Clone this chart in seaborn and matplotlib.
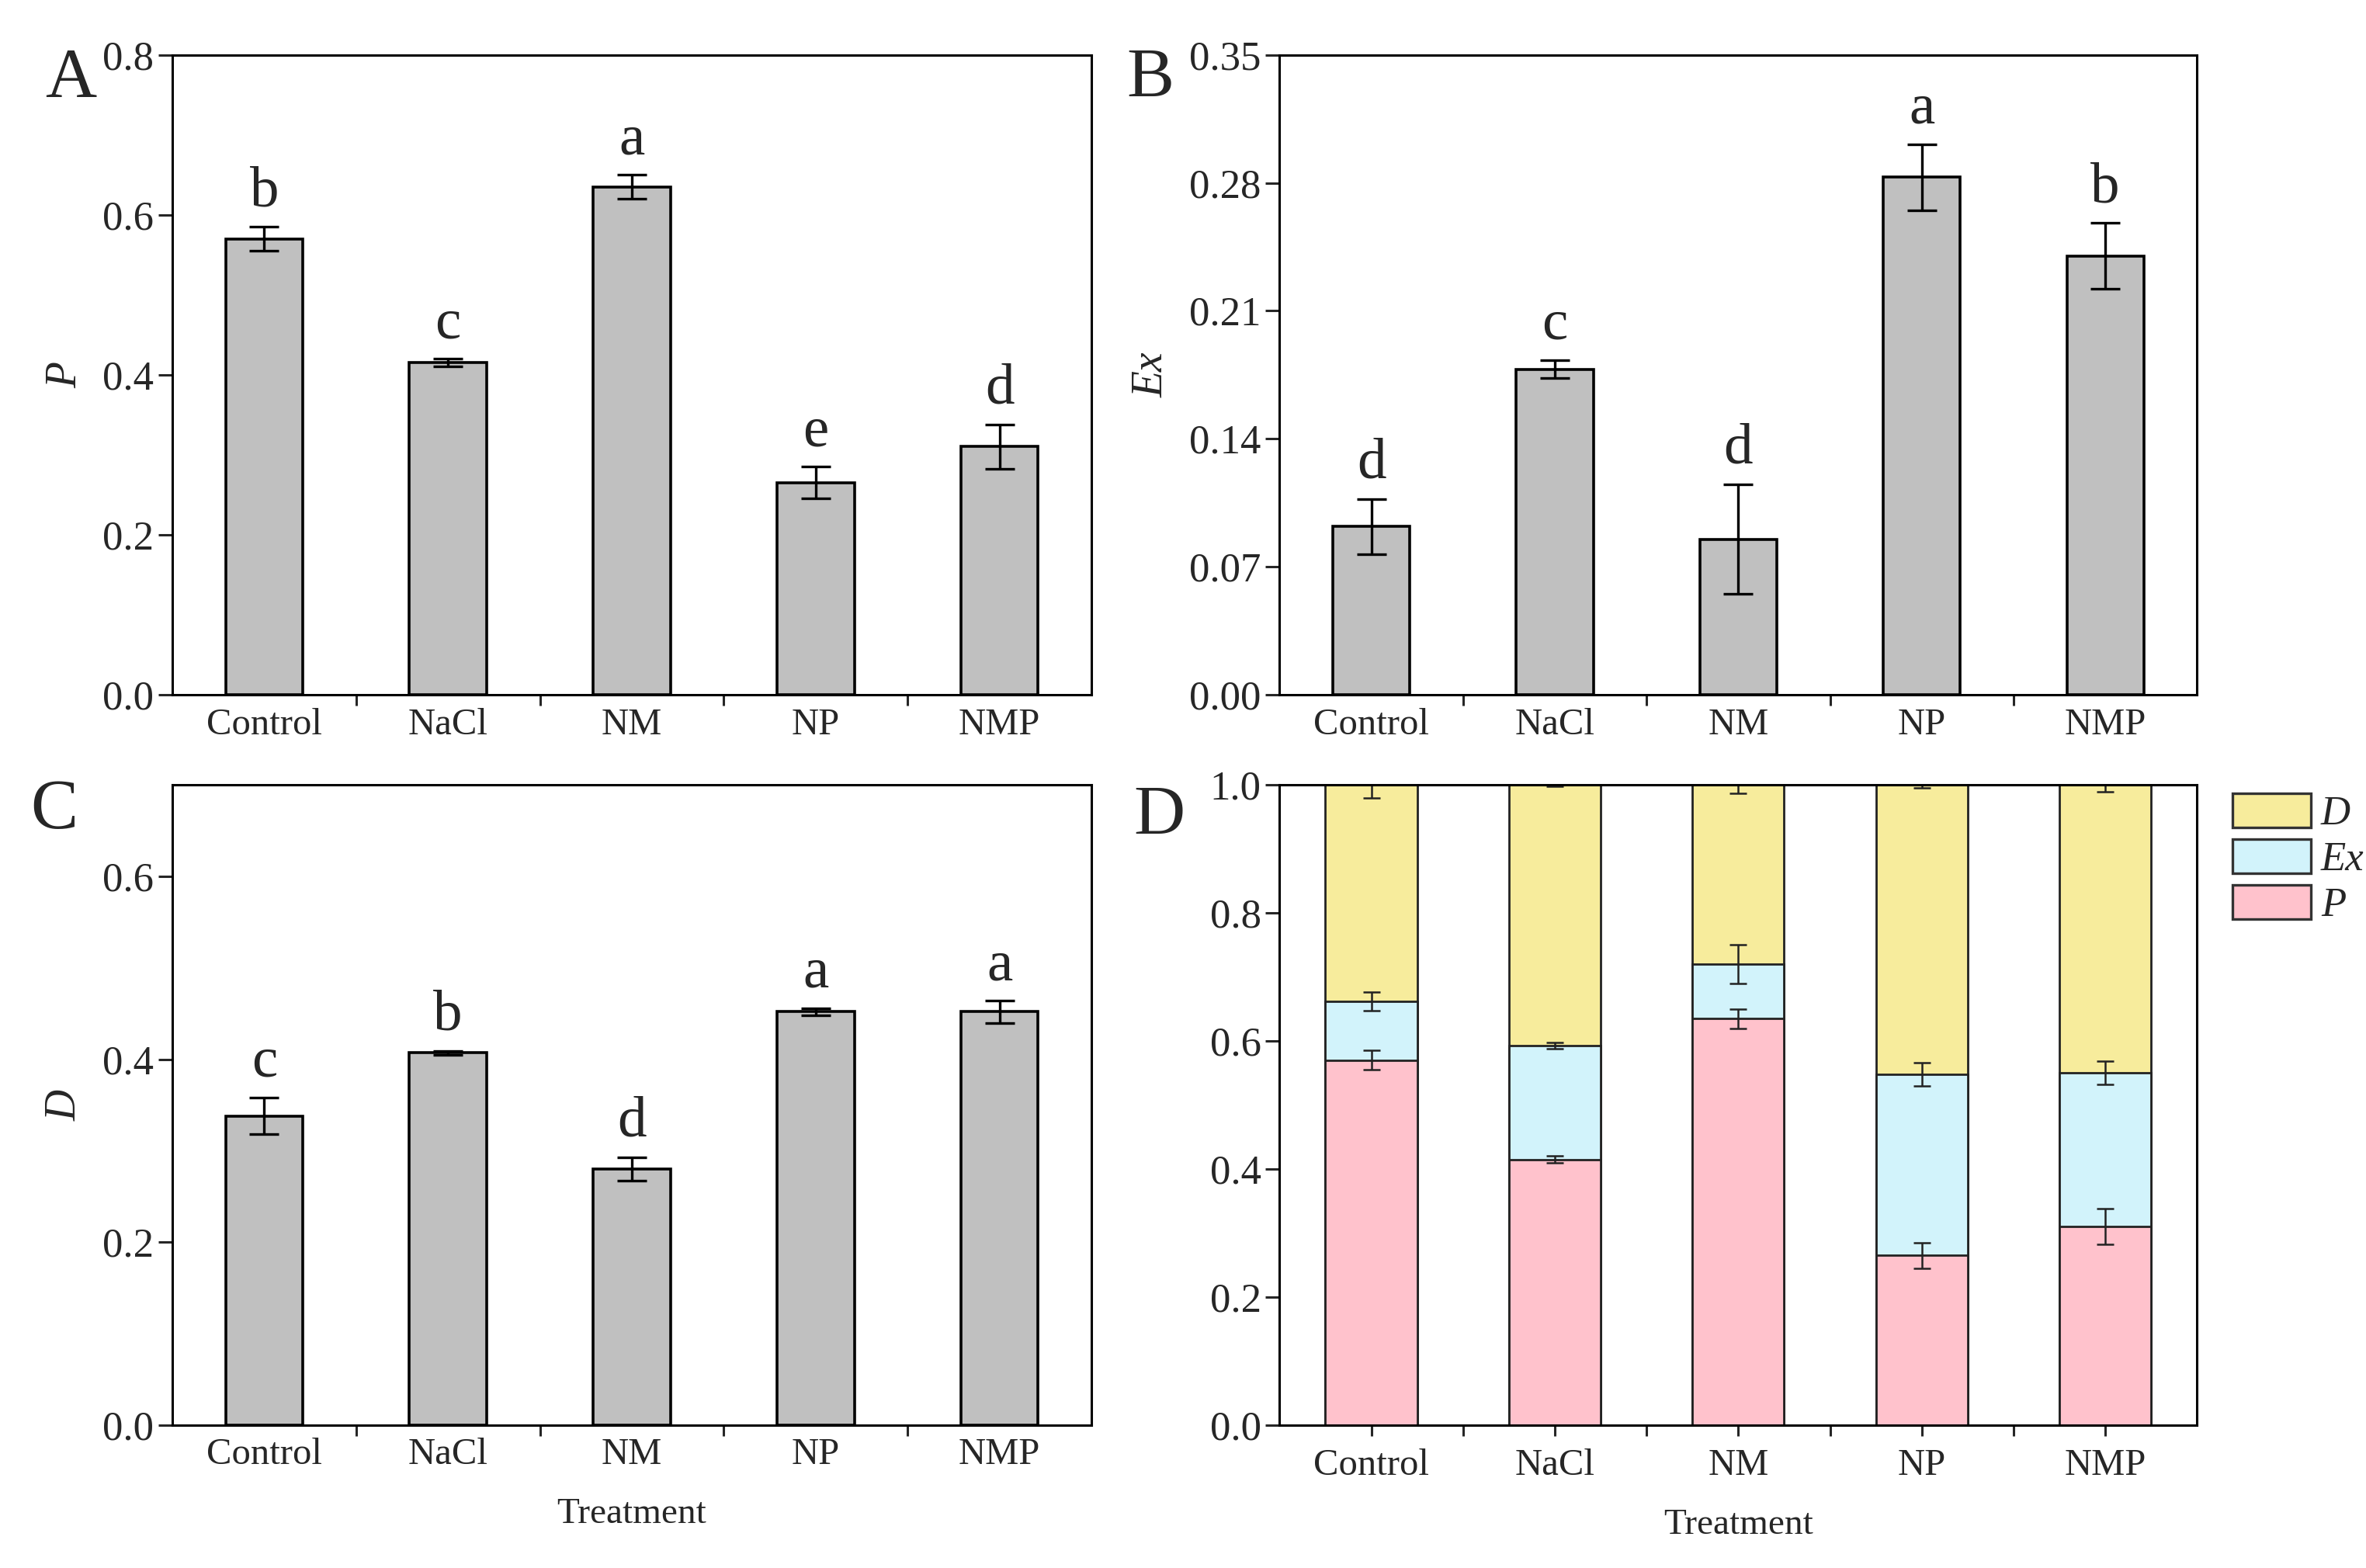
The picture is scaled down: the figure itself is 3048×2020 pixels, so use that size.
import numpy as np
import pandas as pd
import matplotlib
matplotlib.use("Agg")
import matplotlib.pyplot as plt
import seaborn as sns
from matplotlib.ticker import FixedLocator, FormatStrFormatter
from matplotlib.patches import Patch

# data
treatments = ["Control", "NaCl", "NM", "NP", "NMP"]
p_mean = [0.570, 0.415, 0.635, 0.265, 0.310]
p_err = [0.015, 0.005, 0.015, 0.020, 0.028]
p_letters = ["b", "c", "a", "e", "d"]
ex_mean = [0.092, 0.178, 0.085, 0.283, 0.240]
ex_err = [0.015, 0.005, 0.030, 0.018, 0.018]
ex_letters = ["d", "c", "d", "a", "b"]
d_mean = [0.338, 0.407, 0.280, 0.452, 0.452]
d_err = [0.020, 0.002, 0.013, 0.004, 0.012]
d_letters = ["c", "b", "d", "a", "a"]

sns.set_style("ticks")
plt.rcParams["font.family"] = ["Liberation Serif", "DejaVu Serif"]

XTICK_FS = 17.5
YTICK_FS = 19
LETTER_FS = 27
PANEL_FS = 33
GRAY = "#C0C0C0"
colors = {"D": "#F7EC9C", "Ex": "#D2F3FB", "P": "#FFC2CC"}

fig = plt.figure(figsize=(15.24, 10.10), dpi=200)
axA = fig.add_axes([0.0728, 0.557, 0.3885, 0.408])
axB = fig.add_axes([0.5408, 0.557, 0.3878, 0.408])
axC = fig.add_axes([0.0728, 0.0913, 0.3885, 0.408])
axD = fig.add_axes([0.5408, 0.0913, 0.3878, 0.408])


def style_axis(ax, centre_ticks=False):
    for sp in ax.spines.values():
        sp.set_visible(True)
        sp.set_linewidth(1.1)
        sp.set_color("black")
    ax.set_xlim(-0.5, len(treatments) - 0.5)
    ax.xaxis.set_minor_locator(FixedLocator(np.arange(0.5, len(treatments) - 1, 1.0)))
    ax.tick_params(axis="x", which="minor", direction="out", length=5, width=1.1,
                   top=False)
    ax.tick_params(axis="x", which="major", direction="out",
                   length=5 if centre_ticks else 0, width=1.1,
                   labelsize=XTICK_FS, pad=6, top=False)
    ax.tick_params(axis="y", which="major", direction="out", length=6.5, width=1.1,
                   labelsize=YTICK_FS, pad=2, right=False)
    ax.set_xlabel("")


def bar_panel(ax, mean, err, letters, ylim, yticks, fmt, ylabel):
    sns.barplot(x=treatments, y=mean, color=GRAY, saturation=1, width=0.42,
                edgecolor="black", linewidth=1.3, errorbar=None, ax=ax)
    xs = np.arange(len(treatments))
    ax.errorbar(xs, mean, yerr=err, fmt="none", ecolor="black",
                elinewidth=1.2, capsize=7, capthick=1.2)
    for x, m, e, t in zip(xs, mean, err, letters):
        ax.annotate(t, (x, m + e), xytext=(0, 4), textcoords="offset points",
                    ha="center", va="bottom", fontsize=LETTER_FS)
    ax.set_ylim(*ylim)
    ax.set_yticks(yticks)
    ax.yaxis.set_major_formatter(FormatStrFormatter(fmt))
    ax.set_ylabel(ylabel, fontsize=20, fontstyle="italic", labelpad=8)
    style_axis(ax)


bar_panel(axA, p_mean, p_err, p_letters, (0, 0.8), np.arange(0, 0.81, 0.2), "%.1f", "P")
bar_panel(axB, ex_mean, ex_err, ex_letters, (0, 0.35), np.arange(0, 0.351, 0.07), "%.2f", "Ex")
bar_panel(axC, d_mean, d_err, d_letters, (0, 0.7), np.arange(0, 0.61, 0.2), "%.1f", "D")
axC.set_xlabel("Treatment", fontsize=17, labelpad=12)

# stacked proportions (drawn as overlapping cumulative bars)
p_arr = np.array(p_mean)
mid = p_arr + np.array(ex_mean)
top = mid + np.array(d_mean)
xs = np.arange(len(treatments))
for vals, key in [(top, "D"), (mid, "Ex"), (p_arr, "P")]:
    sns.barplot(x=treatments, y=vals, color=colors[key], saturation=1, width=0.5,
                edgecolor="#222222", linewidth=1.0, errorbar=None, ax=axD)
for vals, e in [(p_arr, p_err), (mid, ex_err), (top, d_err)]:
    axD.errorbar(xs, vals, yerr=e, fmt="none", ecolor="#222222",
                 elinewidth=0.9, capsize=4, capthick=0.9)
axD.set_ylim(0, 1.0)
axD.set_yticks(np.arange(0, 1.01, 0.2))
axD.yaxis.set_major_formatter(FormatStrFormatter("%.1f"))
style_axis(axD, centre_ticks=True)
axD.set_xlabel("Treatment", fontsize=17, labelpad=12)
axD.set_ylabel("")

handles = [Patch(facecolor=colors[k], edgecolor="#333333", linewidth=1.2, label=k)
           for k in ["D", "Ex", "P"]]
leg = axD.legend(handles=handles, loc="upper left", bbox_to_anchor=(1.03, 1.0),
                 frameon=False, fontsize=19, handlelength=1.9, handleheight=0.9,
                 labelspacing=0.15, handletextpad=0.25, borderaxespad=0.1,
                 borderpad=0.1)
for txt in leg.get_texts():
    txt.set_fontstyle("italic")

for lab, x, y in [("A", 0.019, 0.949), ("B", 0.476, 0.949),
                  ("C", 0.013, 0.483), ("D", 0.479, 0.479)]:
    fig.text(x, y, lab, fontsize=PANEL_FS, ha="left", va="center")

fig.savefig("out.png", dpi=200, facecolor="white")
